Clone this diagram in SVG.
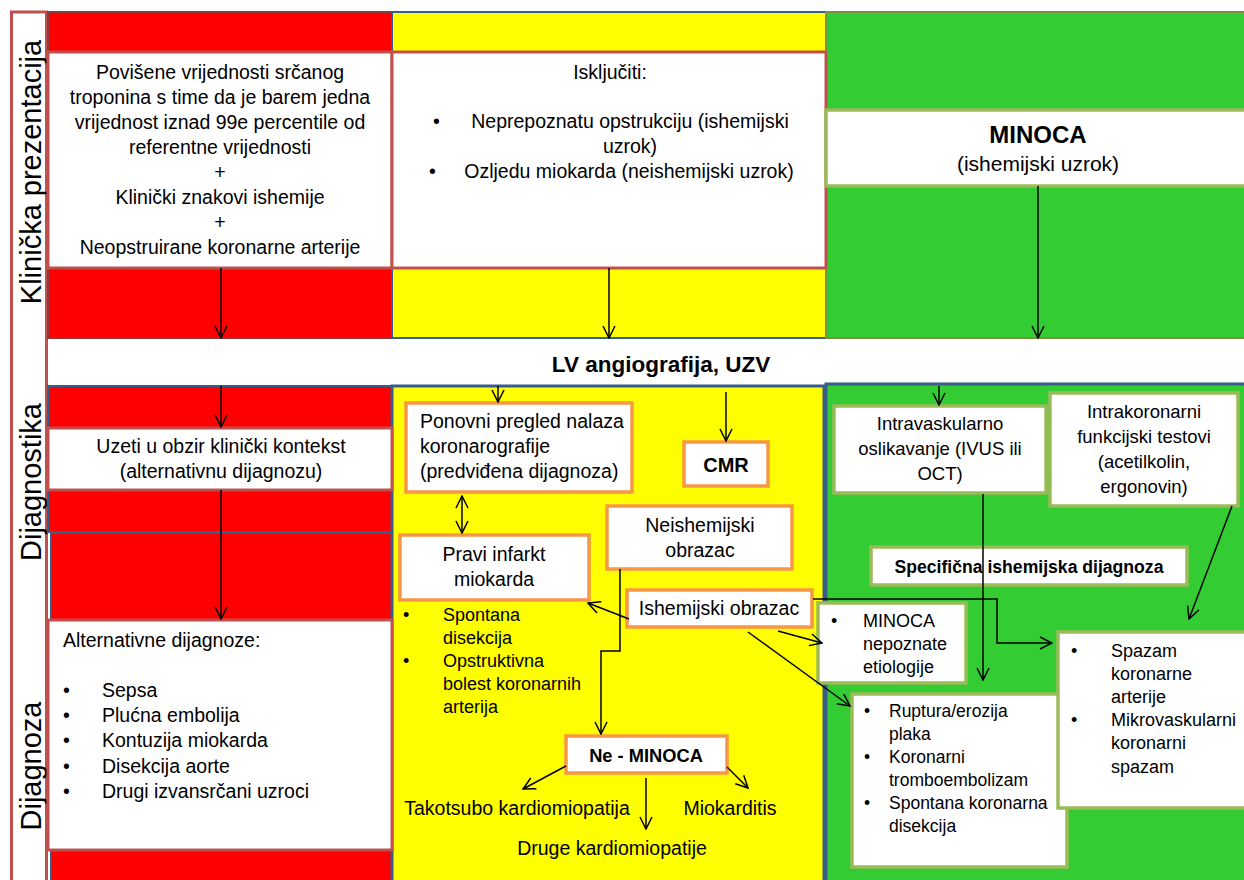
<svg xmlns="http://www.w3.org/2000/svg" width="1244" height="880" viewBox="0 0 1244 880">
<style>
text{font-family:"Liberation Sans",Arial,sans-serif;fill:#000}
.c{text-anchor:middle}
.b{font-weight:bold}
.f19{font-size:19.5px}
.f18{font-size:18px}
.f17{font-size:17.5px}
.side{font-size:29px;text-anchor:middle}
.red{fill:#FF0000}
.yel{fill:#FFFF00}
.grn{fill:#33CC33}
.wr{fill:#fff;stroke:#C0504D;stroke-width:3}
.wo{fill:#fff;stroke:#F79646;stroke-width:3.5}
.wg{fill:#fff;stroke:#9BBB59;stroke-width:3.5}
.conn{fill:none;stroke:#000;stroke-width:1.5;marker-end:url(#ah)}
</style>
<defs>
<marker id="ah" markerUnits="userSpaceOnUse" markerWidth="14" markerHeight="14" viewBox="0 0 14 14" refX="13" refY="7" orient="auto-start-reverse"><path d="M1,1 L13,7 L1,13" fill="none" stroke="#000" stroke-width="1.5"/></marker>
</defs>
<rect x="0" y="0" width="1244" height="880" fill="#fff"/>

<g id="sidebar">
<rect x="11.5" y="12" width="35" height="872" fill="#fff" stroke="#C0504D" stroke-width="3"/>
<text class="side" transform="translate(41,172) rotate(-90)">Klinička prezentacija</text>
<text class="side" transform="translate(41,482) rotate(-90)">Dijagnostika</text>
<text class="side" transform="translate(41,766) rotate(-90)">Dijagnoza</text>
</g>

<g id="lanes">
<rect x="48" y="12" width="344" height="326" class="red" stroke="#8C3B3B" stroke-width="2"/>
<rect x="392" y="12" width="434" height="326" class="yel" stroke="#385D8A" stroke-width="2"/>
<rect x="826" y="12" width="420" height="326" class="grn" stroke="#76923C" stroke-width="2"/>
<rect x="48" y="386" width="344" height="146" class="red" stroke="#385D8A" stroke-width="2"/>
<rect x="51" y="533" width="341" height="350" class="red" stroke="#385D8A" stroke-width="2"/>
<rect x="392" y="386" width="432" height="496" class="yel" stroke="#385D8A" stroke-width="3"/>
<rect x="826" y="384" width="420" height="498" class="grn" stroke="#385D8A" stroke-width="3"/>
</g>

<g id="n-presentation">
<rect x="48" y="52" width="344" height="216" class="wr"/>
<text class="f19 c" x="220" y="79">Povišene vrijednosti srčanog</text>
<text class="f19 c" x="220" y="104">troponina s time da je barem jedna</text>
<text class="f19 c" x="220" y="129">vrijednost iznad 99e percentile od</text>
<text class="f19 c" x="220" y="154">referentne vrijednosti</text>
<text class="f19 c" x="220" y="179">+</text>
<text class="f19 c" x="220" y="204">Klinički znakovi ishemije</text>
<text class="f19 c" x="220" y="229">+</text>
<text class="f19 c" x="220" y="254">Neopstruirane koronarne arterije</text>
</g>

<g id="n-iskljuciti">
<rect x="392" y="52" width="434" height="216" class="wr"/>
<text class="f19 c" x="610" y="79">Isključiti:</text>
<text class="f19" x="433" y="128">•</text>
<text class="f19 c" x="630" y="128">Neprepoznatu opstrukciju (ishemijski</text>
<text class="f19 c" x="630" y="153">uzrok)</text>
<text class="f19" x="429" y="178">•</text>
<text class="f19 c" x="629" y="178">Ozljedu miokarda (neishemijski uzrok)</text>
</g>

<g id="n-minoca">
<rect x="826" y="110" width="420" height="76" class="wg"/>
<text class="b c" style="font-size:24px" x="1038" y="143">MINOCA</text>
<text class="c" style="font-size:21px" x="1038" y="171">(ishemijski uzrok)</text>
</g>

<g id="n-lv">
<text class="b c" style="font-size:22.5px" x="661" y="372">LV angiografija, UZV</text>
</g>

<g id="n-uzeti">
<rect x="48" y="428" width="344" height="62" class="wr"/>
<text class="f19 c" x="221" y="453">Uzeti u obzir klinički kontekst</text>
<text class="f19 c" x="221" y="478">(alternativnu dijagnozu)</text>
</g>

<g id="n-alternativne">
<rect x="48" y="620" width="344" height="230" class="wr"/>
<text class="f19" x="63" y="647">Alternativne dijagnoze:</text>
<text class="f19" x="63" y="697">•</text><text class="f19" x="102" y="697">Sepsa</text>
<text class="f19" x="63" y="722">•</text><text class="f19" x="102" y="722">Plućna embolija</text>
<text class="f19" x="63" y="747">•</text><text class="f19" x="102" y="747">Kontuzija miokarda</text>
<text class="f19" x="63" y="773">•</text><text class="f19" x="102" y="773">Disekcija aorte</text>
<text class="f19" x="63" y="798">•</text><text class="f19" x="102" y="798">Drugi izvansrčani uzroci</text>
</g>

<g id="n-ponovni">
<rect x="406" y="403" width="226" height="89" class="wo"/>
<text class="f19" x="420" y="428">Ponovni pregled nalaza</text>
<text class="f19" x="420" y="453">koronarografije</text>
<text class="f19" x="420" y="478">(predviđena dijagnoza)</text>
</g>

<g id="n-cmr">
<rect x="684" y="442" width="84" height="44" class="wo"/>
<text class="b c" style="font-size:20px" x="726" y="472">CMR</text>
</g>

<g id="n-pravi">
<rect x="400" y="535" width="189" height="65" class="wo"/>
<text class="f19 c" x="494" y="561">Pravi infarkt</text>
<text class="f19 c" x="494" y="586">miokarda</text>
</g>

<g id="n-pravi-list">
<text class="f18" x="403" y="621">•</text><text class="f18" x="443" y="621">Spontana</text>
<text class="f18" x="443" y="644">disekcija</text>
<text class="f18" x="403" y="667">•</text><text class="f18" x="443" y="667">Opstruktivna</text>
<text class="f18" x="443" y="690">bolest koronarnih</text>
<text class="f18" x="443" y="713">arterija</text>
</g>

<g id="n-neishemijski">
<rect x="607" y="506" width="185" height="63" class="wo"/>
<text class="f19 c" x="700" y="532">Neishemijski</text>
<text class="f19 c" x="700" y="557">obrazac</text>
</g>

<g id="n-ishemijski">
<rect x="627" y="590" width="185" height="37" class="wo"/>
<text class="f19 c" x="719" y="615">Ishemijski obrazac</text>
</g>

<g id="n-neminoca">
<rect x="566" y="736" width="161" height="37" class="wo"/>
<text class="b c" style="font-size:18.3px" x="646" y="762">Ne - MINOCA</text>
</g>

<g id="n-takotsubo"><text class="f19 c" x="517" y="815">Takotsubo kardiomiopatija</text></g>
<g id="n-miokarditis"><text class="f19 c" x="730" y="815">Miokarditis</text></g>
<g id="n-druge"><text class="f19 c" x="612" y="855">Druge kardiomiopatije</text></g>

<g id="n-intravaskularno">
<rect x="834" y="406" width="212" height="87" class="wg"/>
<text class="c" style="font-size:18.5px" x="940" y="430">Intravaskularno</text>
<text class="c" style="font-size:18.5px" x="940" y="455">oslikavanje (IVUS ili</text>
<text class="c" style="font-size:18.5px" x="940" y="480">OCT)</text>
</g>

<g id="n-intrakoronarni">
<rect x="1050" y="393" width="188" height="113" class="wg"/>
<text class="c" style="font-size:18.5px" x="1144" y="418">Intrakoronarni</text>
<text class="c" style="font-size:18.5px" x="1144" y="443">funkcijski testovi</text>
<text class="c" style="font-size:18.5px" x="1144" y="468">(acetilkolin,</text>
<text class="c" style="font-size:18.5px" x="1144" y="493">ergonovin)</text>
</g>

<g id="n-specificna">
<rect x="871" y="547" width="316" height="38" class="wg"/>
<text class="b c" style="font-size:17.6px" x="1029" y="573">Specifična ishemijska dijagnoza</text>
</g>

<g id="n-minoca-nepoznate">
<rect x="818" y="603" width="148" height="80" class="wg"/>
<text class="f18" x="831" y="627">•</text><text class="f18" x="863" y="627">MINOCA</text>
<text class="f18" x="863" y="650">nepoznate</text>
<text class="f18" x="863" y="673">etiologije</text>
</g>

<g id="n-ruptura">
<rect x="852" y="694" width="215" height="173" class="wg"/>
<text class="f17" x="864" y="717">•</text><text class="f17" x="889" y="717">Ruptura/erozija</text>
<text class="f17" x="889" y="740">plaka</text>
<text class="f17" x="864" y="763">•</text><text class="f17" x="889" y="763">Koronarni</text>
<text class="f17" x="889" y="786">tromboembolizam</text>
<text class="f17" x="864" y="809">•</text><text class="f17" x="889" y="809">Spontana koronarna</text>
<text class="f17" x="889" y="832">disekcija</text>
</g>

<g id="n-spazam">
<rect x="1058" y="632" width="192" height="176" class="wg"/>
<text class="f18" x="1071" y="657">•</text><text class="f18" x="1111" y="657">Spazam</text>
<text class="f18" x="1111" y="680">koronarne</text>
<text class="f18" x="1111" y="703">arterije</text>
<text class="f18" x="1071" y="726">•</text><text class="f18" x="1111" y="726">Mikrovaskularni</text>
<text class="f18" x="1111" y="749">koronarni</text>
<text class="f18" x="1111" y="773">spazam</text>
</g>

<g id="connectors">
<line class="conn" x1="221" y1="268" x2="221" y2="338"/>
<line class="conn" x1="609" y1="268" x2="609" y2="338"/>
<line class="conn" x1="1038" y1="186" x2="1038" y2="338"/>
<line class="conn" x1="221" y1="386" x2="221" y2="427"/>
<line class="conn" x1="221" y1="490" x2="221" y2="619"/>
<line class="conn" x1="498" y1="386" x2="498" y2="402"/>
<line class="conn" x1="726" y1="392" x2="726" y2="441"/>
<line class="conn" x1="939" y1="386" x2="939" y2="405"/>
<line class="conn" x1="462" y1="496" x2="462" y2="533" style="marker-start:url(#ah)"/>
<line class="conn" x1="629" y1="619" x2="588" y2="603"/>
<polyline class="conn" points="620,569 620,651 601,651 601,734"/>
<line class="conn" x1="566" y1="766" x2="523" y2="789"/>
<line class="conn" x1="646" y1="778" x2="646" y2="829"/>
<line class="conn" x1="727" y1="767" x2="748" y2="788"/>
<line class="conn" x1="778" y1="631" x2="822" y2="643"/>
<line class="conn" x1="748" y1="632" x2="850" y2="706"/>
<polyline class="conn" points="813,599 997,599 997,643 1052,643"/>
<line class="conn" x1="983" y1="494" x2="983" y2="680"/>
<line class="conn" x1="1232" y1="506" x2="1189" y2="619"/>
</g>
</svg>
